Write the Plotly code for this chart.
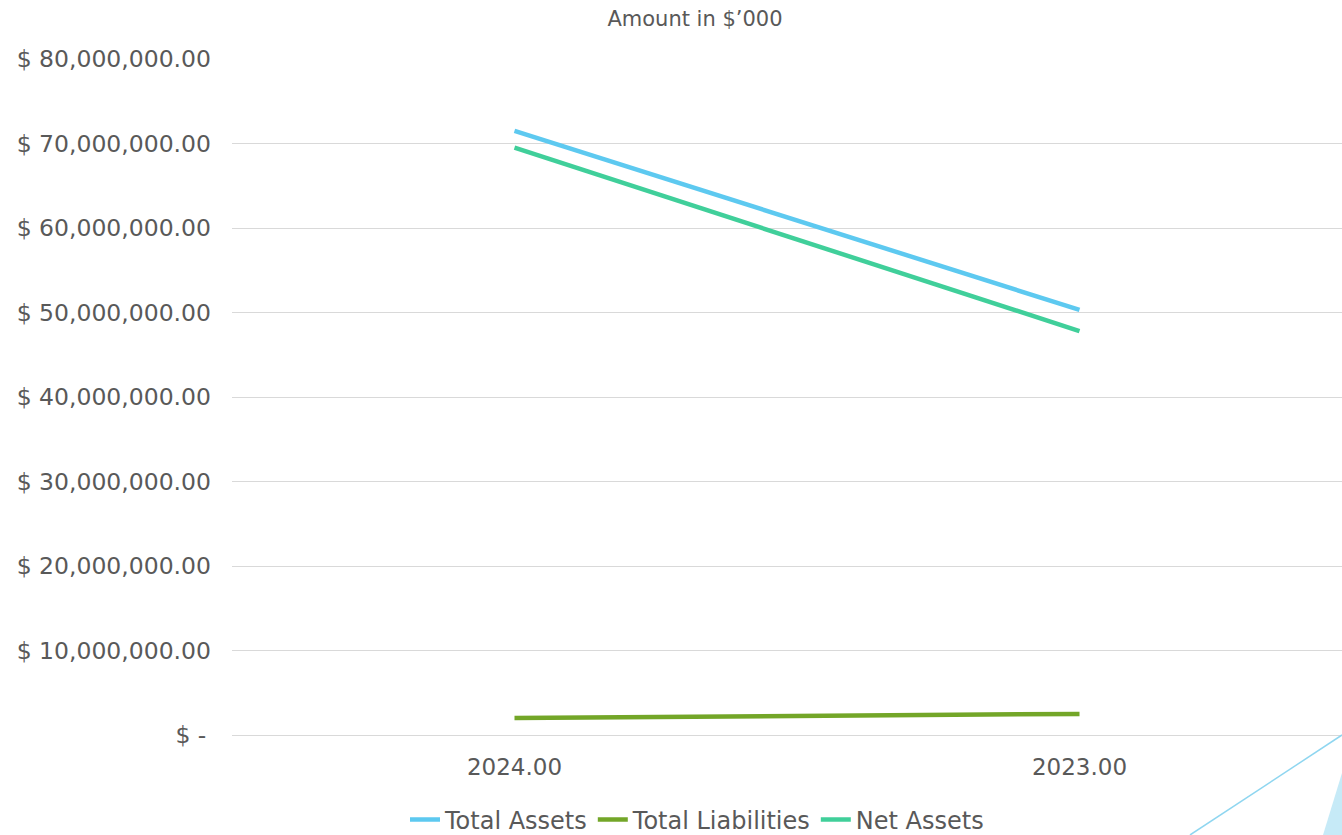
import plotly.graph_objects as go

categories = ["2024.00", "2023.00"]
total_assets = [71_500_000, 50_300_000]
total_liabilities = [2_000_000, 2_500_000]
net_assets = [69_500_000, 47_800_000]

tick_vals = [0, 10_000_000, 20_000_000, 30_000_000, 40_000_000, 50_000_000, 60_000_000, 70_000_000, 80_000_000]
tick_text = ["$ -\u2009", "$ 10,000,000.00", "$ 20,000,000.00", "$ 30,000,000.00", "$ 40,000,000.00",
             "$ 50,000,000.00", "$ 60,000,000.00", "$ 70,000,000.00", "$ 80,000,000.00"]

FONT = "DejaVu Sans"
GREY = "#595959"

fig = go.Figure()
series = [
    ("Total Assets", total_assets, "#5DC9F0"),
    ("Total Liabilities", total_liabilities, "#73A628"),
    ("Net Assets", net_assets, "#40CF9A"),
]
for name, vals, col in series:
    fig.add_trace(go.Scatter(x=[0, 1], y=vals, mode="lines", name=name,
                             line=dict(color=col, width=4.5)))

W, H = 1342, 835
L, R, T, B = 232, 0, 59, 100
pw, ph = W - L - R, H - T - B

def px(xp):
    return (xp - L) / pw

def py(yp):
    return (H - B - yp) / ph

fig.update_layout(
    width=W, height=H,
    margin=dict(l=L, r=R, t=T, b=B, autoexpand=False),
    paper_bgcolor="white", plot_bgcolor="white",
    font=dict(family=FONT, color=GREY),
    title=dict(text="Amount in $’000", x=695 / W, xanchor="center",
               y=1 - 19 / H, yanchor="middle",
               font=dict(family=FONT, size=21, color=GREY)),
    xaxis=dict(tickmode="array", tickvals=[0, 1], ticktext=categories,
               range=[-0.5, -0.5 + pw / 565], showgrid=False, zeroline=False,
               showline=False, ticks="", ticklabelstandoff=16,
               tickfont=dict(family=FONT, size=23, color=GREY)),
    yaxis=dict(tickmode="array", tickvals=tick_vals, ticktext=tick_text,
               range=[0, 80_000_000], showgrid=True, gridcolor="#D9D9D9", gridwidth=1,
               zeroline=True, zerolinecolor="#D9D9D9", zerolinewidth=1,
               showline=False, ticks="", ticklabelstandoff=20,
               tickfont=dict(family=FONT, size=23.5, color=GREY)),
    legend=dict(orientation="h", x=697 / W, xref="container", xanchor="center",
                y=py(820), yanchor="middle",
                font=dict(family=FONT, size=24, color=GREY),
                itemwidth=30, tracegroupgap=0),
    showlegend=True,
)

fig.add_shape(type="line", xref="paper", yref="paper",
              x0=px(1342), y0=py(735), x1=px(1190), y1=py(835),
              line=dict(color="#8FD6F0", width=1.5))
fig.add_shape(type="path", xref="paper", yref="paper",
              path=f"M {px(1342)} {py(773)} L {px(1323)} {py(835)} L {px(1342)} {py(835)} Z",
              fillcolor="#C6EAF7", line=dict(width=0))

fig.write_html("out.html")
